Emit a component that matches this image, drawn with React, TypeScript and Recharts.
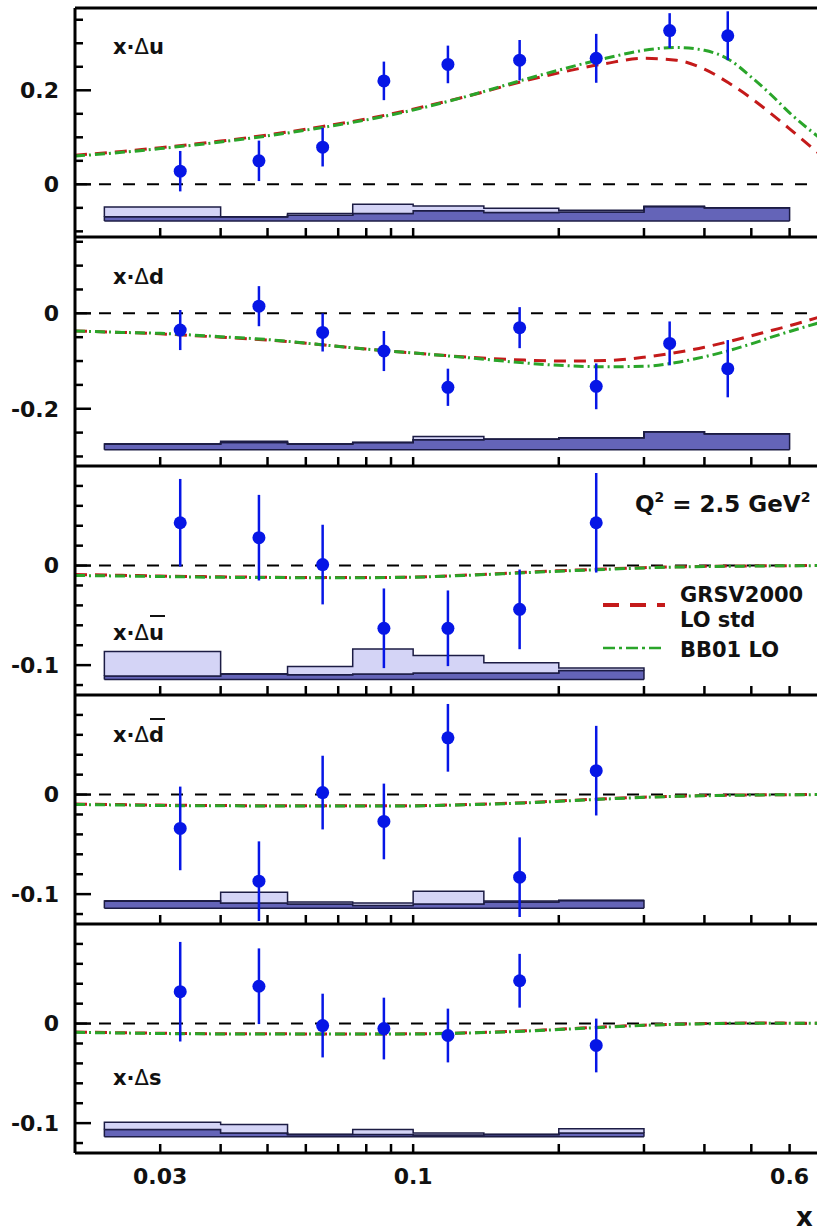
import React from 'react';
import { ComposedChart, XAxis, YAxis, Line, Area, Scatter, ErrorBar, ReferenceLine } from 'recharts';

// bin centres of the data points
const xBins = [0.033, 0.048, 0.065, 0.087, 0.118, 0.166, 0.239, 0.339, 0.447];
// x grid of the parametrisation curves
const curveX = [0.02, 0.025, 0.03, 0.04, 0.05, 0.065, 0.08, 0.1, 0.13, 0.17, 0.2, 0.25, 0.3, 0.35, 0.4, 0.45, 0.5, 0.55, 0.6, 0.7];
// bin edges of the systematic bands
const bandEdges = [0.023, 0.04, 0.055, 0.075, 0.1, 0.14, 0.2, 0.3, 0.4, 0.6];

const xTicks = [0.03, 0.04, 0.05, 0.06, 0.07, 0.08, 0.09, 0.1, 0.2, 0.3, 0.4, 0.5, 0.6];
const xTickLabels = [0.03, 0.1, 0.6];

// x·Δu
const uVal = [0.028, 0.05, 0.079, 0.22, 0.255, 0.264, 0.268, 0.327, 0.316];
const uErr = [0.043, 0.043, 0.041, 0.041, 0.04, 0.043, 0.052, 0.037, 0.052];
const uGrsv = [0.062, 0.07, 0.078, 0.092, 0.105, 0.123, 0.139, 0.16, 0.188, 0.22, 0.237, 0.257, 0.268, 0.264, 0.245, 0.215, 0.183, 0.15, 0.118, 0.06];
const uBb = [0.06, 0.068, 0.076, 0.09, 0.103, 0.121, 0.137, 0.158, 0.188, 0.223, 0.243, 0.268, 0.285, 0.291, 0.285, 0.265, 0.228, 0.19, 0.152, 0.095];
const uBase = -0.078;
const uDark = [-0.069, -0.069, -0.066, -0.062, -0.056, -0.06, -0.059, -0.047, -0.05];
const uLight = [-0.048, -0.069, -0.062, -0.0425, -0.046, -0.051, -0.055, -0.047, -0.05];
const uTicks = [-0.1, -0.05, 0, 0.05, 0.1, 0.15, 0.2, 0.25, 0.3, 0.35];

// x·Δd
const dVal = [-0.035, 0.015, -0.04, -0.079, -0.155, -0.03, -0.153, -0.063, -0.116];
const dErr = [0.042, 0.042, 0.04, 0.042, 0.039, 0.043, 0.048, 0.046, 0.06];
const dGrsv = [-0.037, -0.04, -0.043, -0.05, -0.056, -0.066, -0.075, -0.083, -0.092, -0.098, -0.1, -0.099, -0.092, -0.082, -0.071, -0.059, -0.047, -0.036, -0.026, -0.006];
const dBb = [-0.037, -0.04, -0.042, -0.049, -0.055, -0.066, -0.075, -0.083, -0.093, -0.104, -0.109, -0.112, -0.111, -0.103, -0.091, -0.078, -0.064, -0.05, -0.038, -0.018];
const dBase = -0.286;
const dDark = [-0.274, -0.271, -0.274, -0.271, -0.265, -0.264, -0.261, -0.248, -0.2525];
const dLight = [-0.274, -0.268, -0.274, -0.271, -0.258, -0.264, -0.261, -0.248, -0.2525];
const dTicks = [-0.3, -0.25, -0.2, -0.15, -0.1, -0.05, 0, 0.05, 0.1, 0.15];

// x·Δū
const ubVal = [0.043, 0.028, 0.001, -0.063, -0.063, -0.044, 0.043];
const ubErr = [0.044, 0.043, 0.04, 0.04, 0.038, 0.04, 0.05];
const ubGrsv = [-0.009, -0.0098, -0.0105, -0.0113, -0.0118, -0.0121, -0.012, -0.0115, -0.0095, -0.0068, -0.0052, -0.0034, -0.0021, -0.0013, -0.0008, -0.0005, -0.0003, -0.0002, -0.0001, 0];
const ubBb = [-0.01, -0.0105, -0.011, -0.0118, -0.012, -0.0123, -0.0122, -0.0117, -0.0098, -0.0072, -0.0057, -0.0038, -0.0024, -0.0015, -0.001, -0.0007, -0.0005, -0.0003, -0.0002, 0];
const ubBase = -0.1145;
const ubDark = [-0.111, -0.1088, -0.1097, -0.1088, -0.108, -0.108, -0.1054];
const ubLight = [-0.0864, -0.1088, -0.1014, -0.0837, -0.0904, -0.0977, -0.103];

// x·Δd̄
const dbVal = [-0.034, -0.087, 0.002, -0.027, 0.057, -0.083, 0.024];
const dbErr = [0.042, 0.04, 0.037, 0.038, 0.034, 0.04, 0.045];
const dbGrsv = [-0.0095, -0.0101, -0.0106, -0.011, -0.0112, -0.0113, -0.0113, -0.0112, -0.01, -0.0081, -0.0064, -0.0042, -0.0026, -0.0016, -0.001, -0.0006, -0.0004, -0.0002, -0.0001, 0];
const dbBb = [-0.01, -0.0105, -0.011, -0.0113, -0.0114, -0.0115, -0.0115, -0.0114, -0.0102, -0.0084, -0.0068, -0.0045, -0.0028, -0.0018, -0.0012, -0.0008, -0.0005, -0.0003, -0.0002, 0];
const dbBase = -0.1142;
const dbDark = [-0.107, -0.109, -0.11, -0.1115, -0.11, -0.108, -0.1065];
const dbLight = [-0.107, -0.098, -0.108, -0.109, -0.097, -0.107, -0.1065];

// x·Δs
const sVal = [0.032, 0.0375, -0.002, -0.005, -0.012, 0.043, -0.022];
const sErr = [0.05, 0.038, 0.032, 0.031, 0.027, 0.027, 0.027];
const sGrsv = [-0.0085, -0.0092, -0.0097, -0.0102, -0.0103, -0.0104, -0.0104, -0.0103, -0.0093, -0.0073, -0.0057, -0.0033, -0.0016, -0.0006, 0, 0.0003, 0.0005, 0.0005, 0.0004, 0.0002];
const sBb = [-0.0088, -0.0095, -0.01, -0.0104, -0.0105, -0.0106, -0.0106, -0.0105, -0.0095, -0.0076, -0.006, -0.0036, -0.0018, -0.0008, -0.0002, 0.0002, 0.0004, 0.0004, 0.0003, 0.0002];
const sBase = -0.1138;
const sDark = [-0.1064, -0.1098, -0.1115, -0.1115, -0.1118, -0.1115, -0.11];
const sLight = [-0.099, -0.1014, -0.1115, -0.1064, -0.1098, -0.1115, -0.1057];

const seaTicks = [-0.12, -0.1, -0.08, -0.06, -0.04, -0.02, 0, 0.02, 0.04, 0.06, 0.08];

const FONT = 'DejaVu Sans';
const BLUE = '#0616e6';
const RED = '#c41a1a';
const GREEN = '#2aa52a';
const DARK_BAND = '#6464b8';
const LIGHT_BAND = '#d4d4f6';

const PLOT_H = 229;
const MT = 6;
const MB = 4;
const plotTops = [8, 237, 466, 695, 924];

const panels = [
  { val: uVal, err: uErr, grsv: uGrsv, bb: uBb, base: uBase, dark: uDark, light: uLight, domain: [-0.112, 0.375], ticks: uTicks, major: [0, 0.2] },
  { val: dVal, err: dErr, grsv: dGrsv, bb: dBb, base: dBase, dark: dDark, light: dLight, domain: [-0.32, 0.16], ticks: dTicks, major: [0, -0.2] },
  { val: ubVal, err: ubErr, grsv: ubGrsv, bb: ubBb, base: ubBase, dark: ubDark, light: ubLight, domain: [-0.13, 0.1], ticks: seaTicks, major: [0, -0.1] },
  { val: dbVal, err: dbErr, grsv: dbGrsv, bb: dbBb, base: dbBase, dark: dbDark, light: dbLight, domain: [-0.13, 0.1], ticks: seaTicks, major: [0, -0.1] },
  { val: sVal, err: sErr, grsv: sGrsv, bb: sBb, base: sBase, dark: sDark, light: sLight, domain: [-0.13, 0.1], ticks: seaTicks, major: [0, -0.1] },
];

const makeYTick = (major: number[]) => (props: any) => {
  const { x, y, payload } = props;
  const isMajor = major.some((m) => Math.abs(m - payload.value) < 1e-9);
  return (
    <g>
      <line x1={x} x2={x + (isMajor ? 16 : 8)} y1={y} y2={y} stroke="#000" strokeWidth={2.5} />
      {isMajor && (
        <text x={x - 16} y={y} dy="0.36em" textAnchor="end" fontFamily={FONT} fontWeight={700} fontSize={22} fill="#111">
          {String(payload.value)}
        </text>
      )}
    </g>
  );
};

const makeXTick = (withLabels: boolean) => (props: any) => {
  const { x, y, payload } = props;
  const labelled = withLabels && xTickLabels.some((v) => Math.abs(v - payload.value) < 1e-9);
  return (
    <g>
      <line x1={x} x2={x} y1={y} y2={y - 9} stroke="#000" strokeWidth={2.5} />
      {labelled && (
        <text x={x} y={y + 31} textAnchor="middle" fontFamily={FONT} fontWeight={700} fontSize={22} fill="#111">
          {String(payload.value)}
        </text>
      )}
    </g>
  );
};

const Dot = (p: any) => <circle cx={p.cx} cy={p.cy} r={6.5} fill={BLUE} />;

// step band with collapsed end points so the outline closes at both ends
const buildBand = (base: number, dark: number[], light: number[]) => {
  const n = dark.length;
  const edges = bandEdges.slice(0, n + 1);
  const rows = edges.map((x, i) => {
    const j = Math.min(i, n - 1);
    return { x, dark: [base, dark[j]], light: [dark[j], light[j]] };
  });
  return [
    { x: edges[0], dark: [base, base], light: [dark[0], dark[0]] },
    ...rows,
    { x: edges[n], dark: [base, base], light: [dark[n - 1], dark[n - 1]] },
  ];
};

const Panel = ({ idx }: { idx: number }) => {
  const p = panels[idx];
  const last = idx === panels.length - 1;
  const xh = last ? 60 : 1;
  const points = p.val.map((v, i) => ({ x: xBins[i], y: v, err: p.err[i] }));
  const curves = curveX.map((x, i) => ({ x, grsv: p.grsv[i], bb: p.bb[i] }));
  const band = buildBand(p.base, p.dark, p.light);
  return (
    <div style={{ position: 'absolute', left: 0, top: plotTops[idx] - MT }}>
      <ComposedChart width={827} height={MT + PLOT_H + xh + MB} margin={{ top: MT, right: 5, bottom: MB, left: 0 }}>
        <XAxis
          dataKey="x"
          type="number"
          scale="log"
          domain={[0.02, 0.7]}
          allowDataOverflow
          ticks={xTicks}
          interval={0}
          height={xh}
          tickSize={0}
          tickMargin={0}
          tickLine={false}
          axisLine={{ stroke: '#000', strokeWidth: 3 }}
          tick={makeXTick(last)}
        />
        <YAxis
          type="number"
          domain={p.domain}
          allowDataOverflow
          ticks={p.ticks}
          interval={0}
          width={75}
          tickSize={0}
          tickMargin={0}
          tickLine={false}
          axisLine={{ stroke: '#000', strokeWidth: 3 }}
          tick={makeYTick(p.major)}
        />
        {idx === 0 && <ReferenceLine y={p.domain[1]} stroke="#000" strokeWidth={3} />}
        <Area data={band} dataKey="dark" type="stepAfter" fill={DARK_BAND} fillOpacity={1} stroke="#1c1c44" strokeWidth={1.5} isAnimationActive={false} />
        <Area data={band} dataKey="light" type="stepAfter" fill={LIGHT_BAND} fillOpacity={1} stroke="#1c1c44" strokeWidth={1.5} isAnimationActive={false} />
        <ReferenceLine y={0} stroke="#000" strokeWidth={2} strokeDasharray="12 12" />
        <Line data={curves} dataKey="grsv" type="monotone" stroke={RED} strokeWidth={3} strokeDasharray="12 8" dot={false} activeDot={false} isAnimationActive={false} />
        <Line data={curves} dataKey="bb" type="monotone" stroke={GREEN} strokeWidth={3} strokeDasharray="10 4 2 4" dot={false} activeDot={false} isAnimationActive={false} />
        <Scatter data={points} dataKey="y" fill={BLUE} shape={Dot} isAnimationActive={false}>
          <ErrorBar dataKey="err" direction="y" width={0} stroke={BLUE} strokeWidth={2.5} />
        </Scatter>
      </ComposedChart>
    </div>
  );
};

const txt = { fontFamily: FONT, fontWeight: 700, fill: '#111' } as const;

const Labels = () => (
  <svg width={817} height={1232} style={{ position: 'absolute', left: 0, top: 0, pointerEvents: 'none' }}>
    <text x={113} y={54} fontSize={21} {...txt}>x·<tspan fontWeight={400}>Δ</tspan>u</text>
    <text x={113} y={284} fontSize={21} {...txt}>x·<tspan fontWeight={400}>Δ</tspan>d</text>
    <text x={113} y={640} fontSize={21} {...txt}>x·<tspan fontWeight={400}>Δ</tspan>u</text>
    <line x1={150} x2={165} y1={616} y2={616} stroke="#111" strokeWidth={2} />
    <text x={113} y={742} fontSize={21} {...txt}>x·<tspan fontWeight={400}>Δ</tspan>d</text>
    <line x1={150} x2={165} y1={719} y2={719} stroke="#111" strokeWidth={2} />
    <text x={113} y={1085} fontSize={21} {...txt}>x·<tspan fontWeight={400}>Δ</tspan>s</text>

    <text x={635} y={512} fontSize={23} {...txt}>
      Q<tspan fontSize={14} dy={-10}>2</tspan>
      <tspan dy={10}> = 2.5 GeV</tspan>
      <tspan fontSize={14} dy={-10}>2</tspan>
    </text>

    <line x1={603} x2={665} y1={605} y2={605} stroke={RED} strokeWidth={4} strokeDasharray="16 11" />
    <text x={680} y={602} fontSize={21} {...txt}>GRSV2000</text>
    <text x={680} y={627} fontSize={21} {...txt}>LO std</text>
    <line x1={603} x2={665} y1={648} y2={648} stroke={GREEN} strokeWidth={2.5} strokeDasharray="12 4 3 4" />
    <text x={680} y={657} fontSize={21} {...txt}>BB01 LO</text>

    <text x={796} y={1226} fontSize={26} {...txt}>x</text>
  </svg>
);

export default function App() {
  return (
    <div style={{ position: 'absolute', left: 0, top: 0, width: 817, height: 1232, overflow: 'hidden', background: '#fff' }}>
      {panels.map((_, i) => (
        <Panel key={i} idx={i} />
      ))}
      <Labels />
    </div>
  );
}
